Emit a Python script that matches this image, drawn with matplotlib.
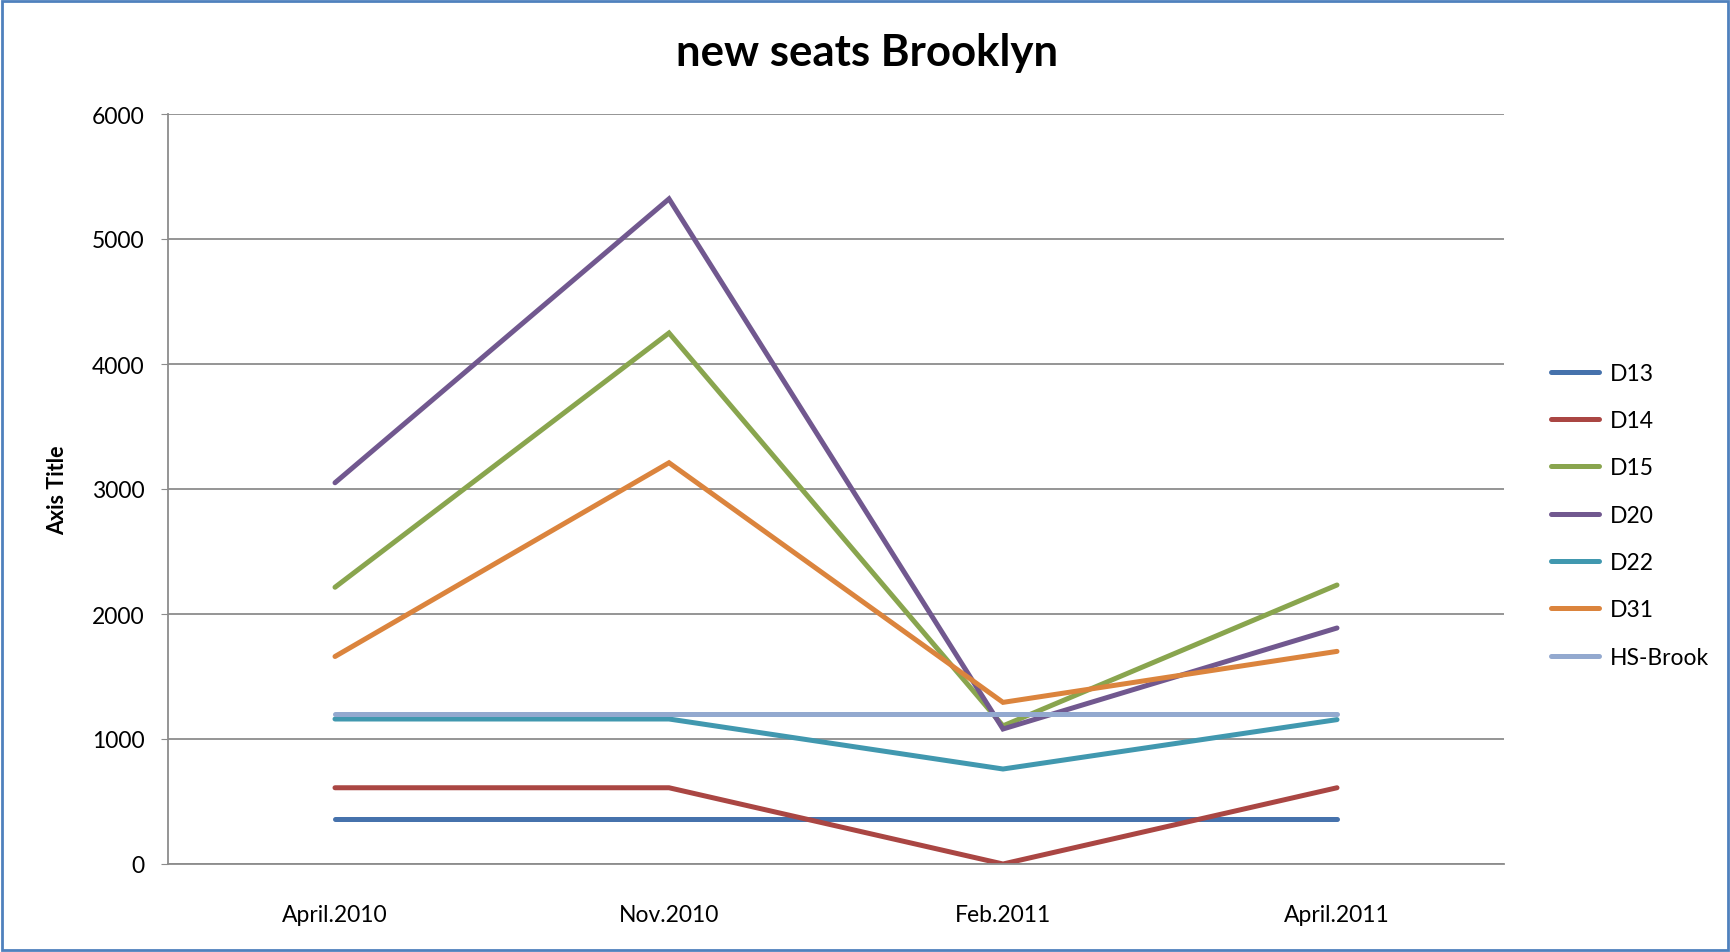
import matplotlib
matplotlib.use('Agg')
import matplotlib.pyplot as plt
from matplotlib.patches import Rectangle

plt.rcParams['font.family'] = ['Lato', 'DejaVu Sans']

categories = ['April.2010', 'Nov.2010', 'Feb.2011', 'April.2011']
d13 = [360, 360, 360, 360]
d14 = [610, 610, 0, 610]
d15 = [2214, 4248, 1105, 2232]
d20 = [3050, 5321, 1080, 1888]
d22 = [1160, 1160, 760, 1155]
d31 = [1660, 3210, 1293, 1701]
hs_brook = [1200, 1200, 1200, 1200]

series = [('D13', d13, '#4672AC'),
          ('D14', d14, '#AA4643'),
          ('D15', d15, '#89A54E'),
          ('D20', d20, '#71588F'),
          ('D22', d22, '#4198AF'),
          ('D31', d31, '#DB843D'),
          ('HS-Brook', hs_brook, '#93A9CF')]

fig = plt.figure(figsize=(17.31, 9.53), dpi=100)
ax = fig.add_axes([168/1731, 1 - 865/953, (1504 - 168)/1731, (865 - 115)/953])

x = list(range(len(categories)))
for name, vals, col in series:
    ax.plot(x, vals, color=col, lw=3.6, label=name, solid_capstyle='round',
            solid_joinstyle='miter')

ax.set_xlim(-0.5, 3.5)
ax.set_ylim(0, 6000)
ax.set_yticks(range(0, 6001, 1000))
ax.set_xticks(x)
ax.set_xticklabels(categories)
ax.yaxis.grid(True, color='#8C8C8C', lw=1.3)
ax.set_axisbelow(True)
for s in ['top', 'right']:
    ax.spines[s].set_visible(False)
for s in ['left', 'bottom']:
    ax.spines[s].set_color('#8C8C8C')
    ax.spines[s].set_linewidth(1.3)
ax.tick_params(axis='y', length=5, color='#8C8C8C', labelsize=16.5, pad=12)
ax.tick_params(axis='x', length=0, labelsize=16.5, pad=29)

ax.set_ylabel('Axis Title', fontsize=15.5, fontweight='bold', labelpad=17)
fig.text(867/1731, 1 - 53/953, 'new seats Brooklyn', fontsize=31.5,
         fontweight='bold', ha='center', va='center')

leg = ax.legend(loc='center left', bbox_to_anchor=(1.02, 0.465), frameon=False,
                fontsize=16.5, handlelength=2.1, labelspacing=1.15, handletextpad=0.45)

fig.patches.append(Rectangle((0.001, 0.002), 0.997, 0.996, transform=fig.transFigure,
                             fill=False, edgecolor='#4F81BD', lw=2))

fig.savefig('out.png', dpi=100)
